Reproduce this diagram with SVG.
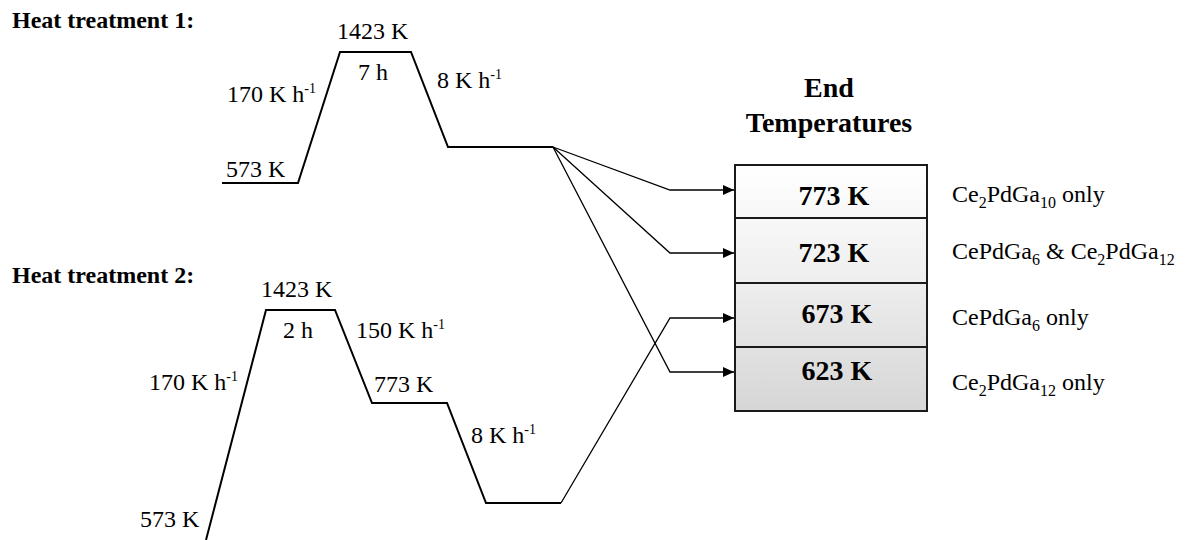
<svg xmlns="http://www.w3.org/2000/svg" width="1188" height="540" viewBox="0 0 1188 540">
<style>
.t{font-family:"Liberation Serif","Times New Roman",serif;font-size:24px;fill:#000}
.b{font-family:"Liberation Serif","Times New Roman",serif;font-weight:bold;fill:#000}
.h{font-size:24px}
.big{font-size:28px}
.sup{font-size:14px}
.sub{font-size:16px}
.curve{fill:none;stroke:#000;stroke-width:2;stroke-linejoin:miter}
.conn{fill:none;stroke:#000;stroke-width:1.3}
.row{stroke:#1a1a1a;stroke-width:2}
</style>
<defs>
<marker id="arr" markerUnits="userSpaceOnUse" markerWidth="11" markerHeight="10" refX="11" refY="5" orient="auto">
<path d="M0,0 L11,5 L0,10 z" fill="#000"/>
</marker>
<linearGradient id="g" gradientUnits="userSpaceOnUse" x1="0" y1="165" x2="0" y2="411">
<stop offset="0" stop-color="#ffffff"/>
<stop offset="0.2" stop-color="#f8f8f8"/>
<stop offset="0.45" stop-color="#efefef"/>
<stop offset="0.7" stop-color="#e3e3e3"/>
<stop offset="1" stop-color="#d6d6d6"/>
</linearGradient>
</defs>

<g id="ht1">
<text class="b h" x="12" y="28">Heat treatment 1:</text>
<path class="curve" d="M222,183 H298 L340,52 H411 L448,147 H553"/>
<text class="t" x="337" y="39">1423 K</text>
<text class="t" x="358" y="80">7 h</text>
<text class="t" x="227" y="102">170 K h<tspan class="sup" dy="-9">-1</tspan></text>
<text class="t" x="437" y="88">8 K h<tspan class="sup" dy="-9">-1</tspan></text>
<text class="t" x="226" y="177">573 K</text>
</g>

<g id="ht2">
<text class="b h" x="12" y="283">Heat treatment 2:</text>
<path class="curve" d="M206,540 L266,310 H335 L372,403 H447 L486,503 H561"/>
<text class="t" x="261" y="297">1423 K</text>
<text class="t" x="283" y="338">2 h</text>
<text class="t" x="356" y="338">150 K h<tspan class="sup" dy="-9">-1</tspan></text>
<text class="t" x="149" y="390">170 K h<tspan class="sup" dy="-9">-1</tspan></text>
<text class="t" x="374" y="392">773 K</text>
<text class="t" x="471" y="443">8 K h<tspan class="sup" dy="-9">-1</tspan></text>
<text class="t" x="140" y="527">573 K</text>
</g>

<g id="title">
<text class="b big" x="829" y="97" text-anchor="middle">End</text>
<text class="b big" x="829" y="132" text-anchor="middle">Temperatures</text>
</g>

<g id="row773">
<rect class="row" x="735" y="165" width="192" height="53" fill="url(#g)"/>
<text class="b big" x="834" y="205" text-anchor="middle">773 K</text>
</g>
<g id="row723">
<rect class="row" x="735" y="218" width="192" height="65" fill="url(#g)"/>
<text class="b big" x="834" y="262" text-anchor="middle">723 K</text>
</g>
<g id="row673">
<rect class="row" x="735" y="283" width="192" height="64" fill="url(#g)"/>
<text class="b big" x="837" y="323" text-anchor="middle">673 K</text>
</g>
<g id="row623">
<rect class="row" x="735" y="347" width="192" height="64" fill="url(#g)"/>
<text class="b big" x="837" y="380" text-anchor="middle">623 K</text>
</g>

<g id="labels">
<text class="t" x="952" y="202">Ce<tspan class="sub" dy="6">2</tspan><tspan dy="-6">PdGa</tspan><tspan class="sub" dy="6">10</tspan><tspan dy="-6"> only</tspan></text>
<text class="t" x="952" y="259">CePdGa<tspan class="sub" dy="6">6</tspan><tspan dy="-6"> &amp; Ce</tspan><tspan class="sub" dy="6">2</tspan><tspan dy="-6">PdGa</tspan><tspan class="sub" dy="6">12</tspan></text>
<text class="t" x="952" y="325">CePdGa<tspan class="sub" dy="6">6</tspan><tspan dy="-6"> only</tspan></text>
<text class="t" x="952" y="390">Ce<tspan class="sub" dy="6">2</tspan><tspan dy="-6">PdGa</tspan><tspan class="sub" dy="6">12</tspan><tspan dy="-6"> only</tspan></text>
</g>

<g id="connectors">
<path class="conn" d="M553,147 L670,190 H734" marker-end="url(#arr)"/>
<path class="conn" d="M553,147 L670,253 H734" marker-end="url(#arr)"/>
<path class="conn" d="M553,147 L670,372 H734" marker-end="url(#arr)"/>
<path class="conn" d="M561,503 L670,318 H734" marker-end="url(#arr)"/>
</g>
</svg>
